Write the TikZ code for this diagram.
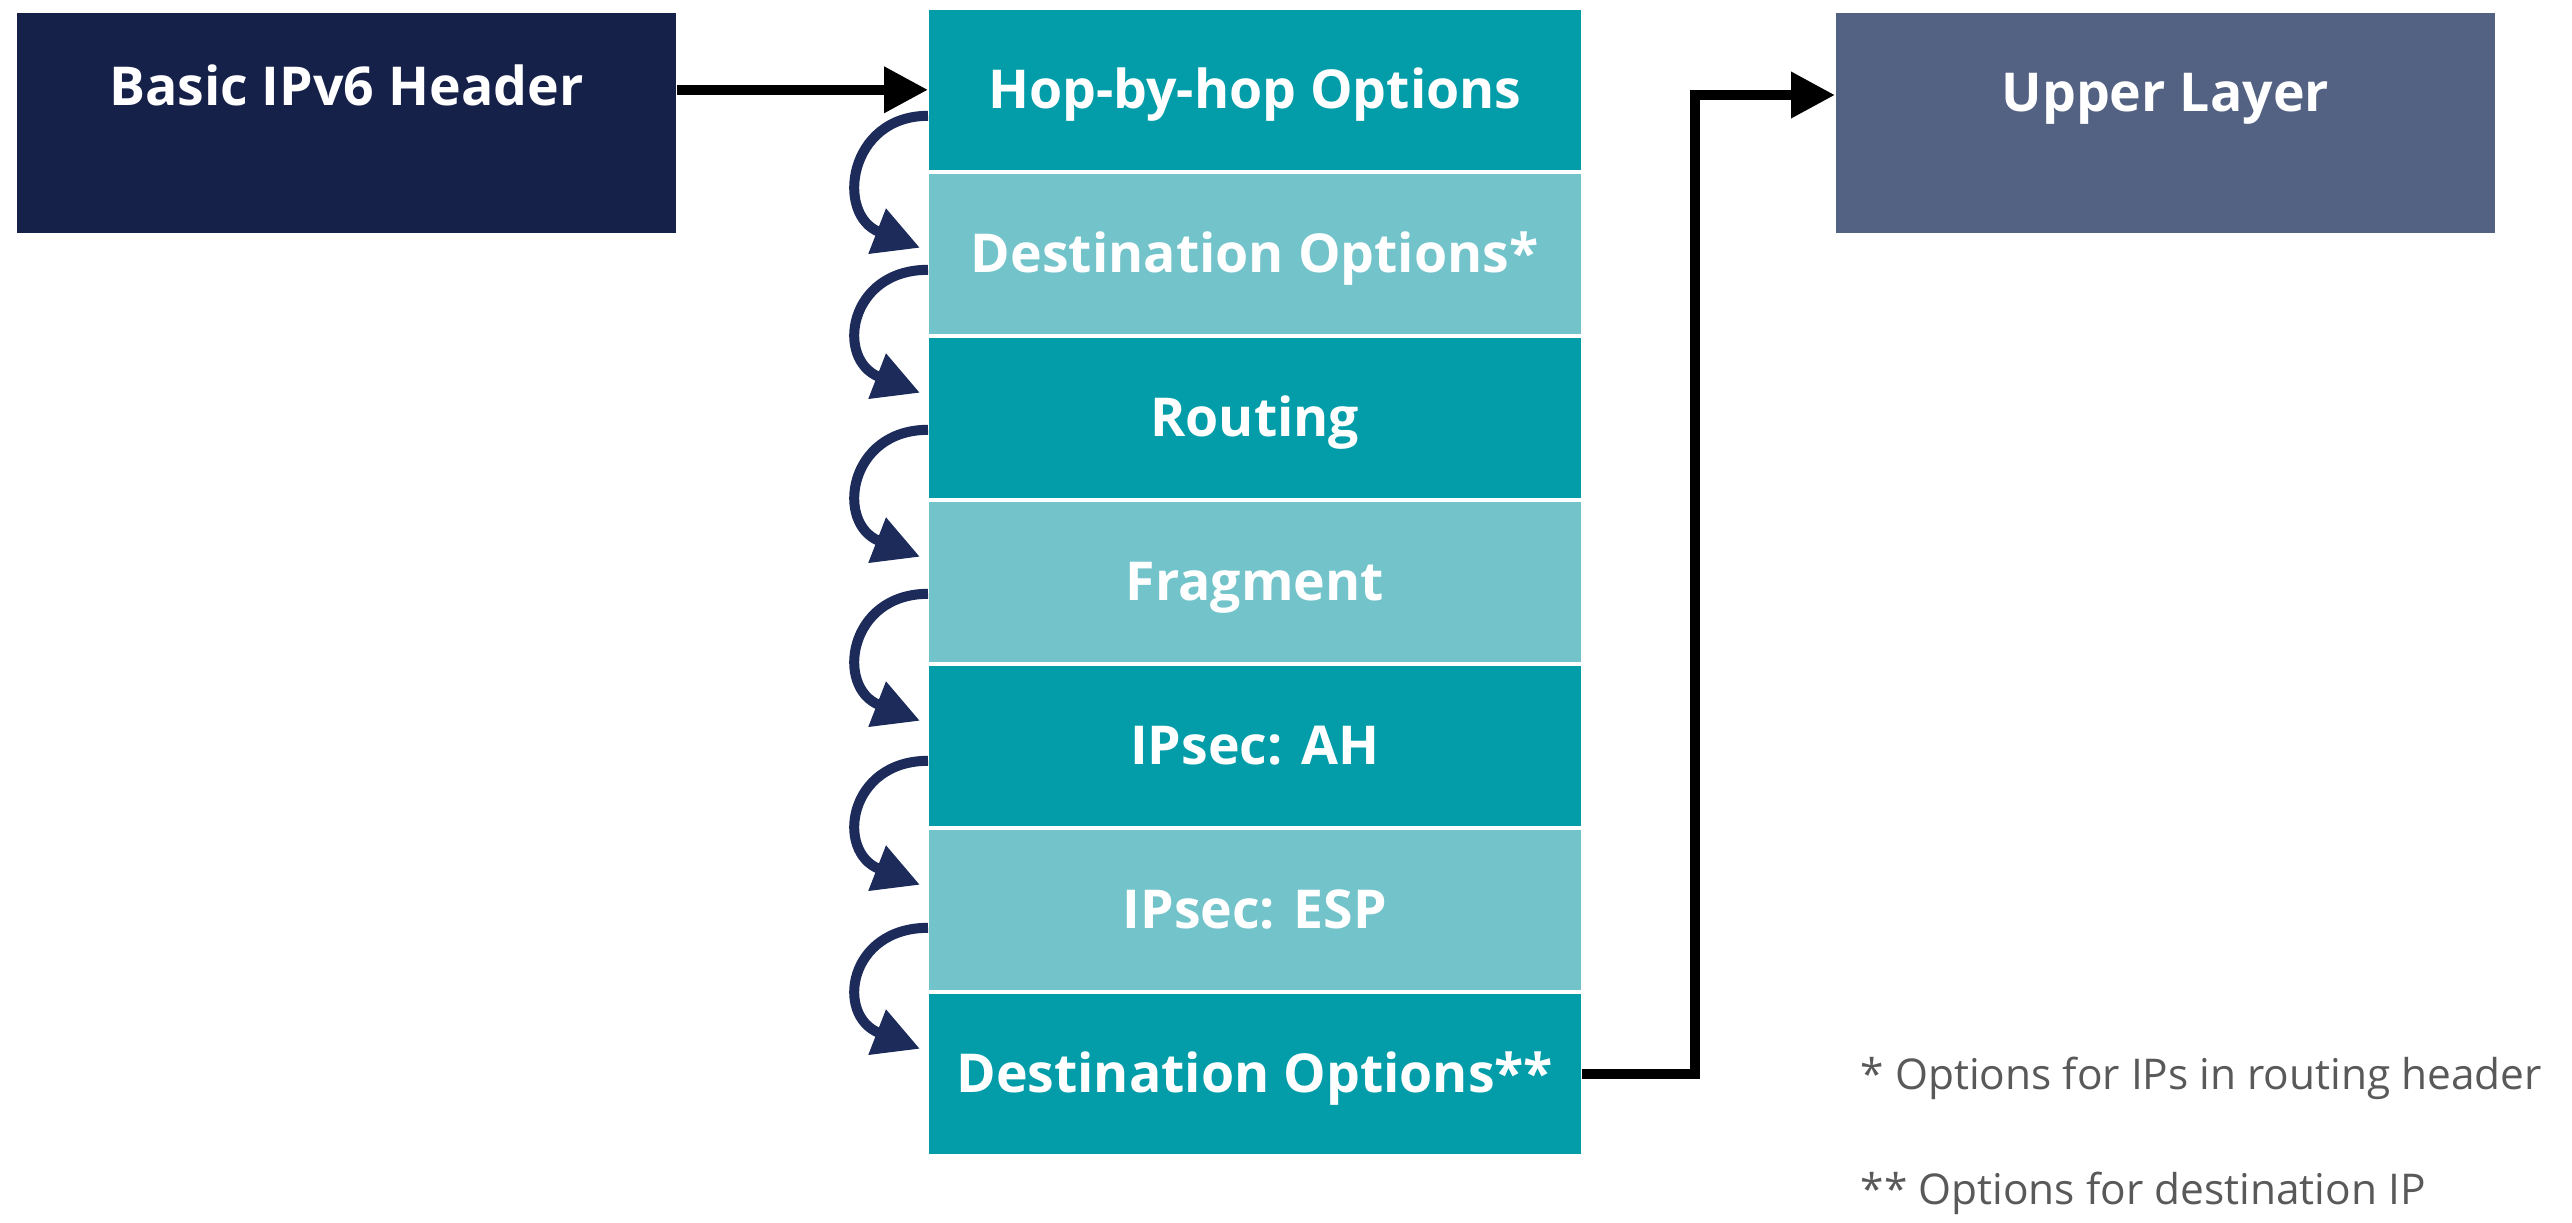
\documentclass[tikz,border=0pt]{standalone}
\usepackage{fontspec}
\setmainfont{Open Sans}
\usetikzlibrary{arrows.meta}

\definecolor{navyhdr}{HTML}{16214A}
\definecolor{tealdark}{HTML}{029DA9}
\definecolor{teallight}{HTML}{72C3CA}
\definecolor{slatehdr}{HTML}{536183}
\definecolor{arrownavy}{HTML}{1C2B5A}
\definecolor{notegrey}{HTML}{595959}

\tikzset{
  outerbox/.style={anchor=north west, inner sep=0pt, minimum width=164.75pt,
    text height=23.25pt, text depth=31.75pt, text=white,
    font=\bfseries\fontsize{13.4}{15}\selectfont},
  extbox/.style={anchor=north west, inner sep=0pt, minimum width=163pt,
    text height=24.6pt, text depth=15.4pt, fill=tealdark, text=white,
    font=\bfseries\fontsize{13.4}{15}\selectfont},
  extboxlt/.style={extbox, fill=teallight},
  notetext/.style={anchor=base west, inner sep=0pt, text=notegrey,
    font=\fontsize{10.6}{12}\selectfont},
  plainarrow/.style={line width=2.5pt, -{Triangle[length=11pt,width=11pt]}},
  bendarrow/.style={draw=arrownavy, line width=2.5pt,
    -{Triangle[length=11.5pt,width=11.5pt,fill=arrownavy]}}
}

\begin{document}
\begin{tikzpicture}[x=0.25pt,y=0.25pt,yscale=-1,xscale=1]
\useasboundingbox (0,0) rectangle (2572,1222);

% Header boxes
\node[outerbox, fill=navyhdr] (basic) at (16,12) {Basic IPv6 Header};
\node[outerbox, fill=slatehdr, text height=24.75pt, text depth=30.25pt] (upper) at (1835,12) {Upper Layer};

% Extension header stack
\node[extbox]   (hop)  at (928,9)   {Hop-by-hop Options};
\node[extboxlt] (dsta) at (928,173) {Destination Options*};
\node[extbox]   (rout) at (928,337) {Routing};
\node[extboxlt] (frag) at (928,501) {Fragment};
\node[extbox]   (ah)   at (928,665) {IPsec: AH};
\node[extboxlt] (esp)  at (928,829) {IPsec: ESP};
\node[extbox]   (dstb) at (928,993) {Destination Options**};

% Notes
\node[notetext] (noteone) at (1860,1089) {* Options for IPs in routing header};
\node[notetext] (notetwo) at (1860,1204) {** Options for destination IP};

%Straight Lines
\draw[plainarrow] (basic.east |- hop.west) -- (hop.west);
\coordinate (elbow) at (1695,95);
\draw[plainarrow] (dstb.east) -| (elbow) -- (elbow -| upper.west);

%Curve Lines
\draw[bendarrow] ([yshift=6.5pt]hop.west) .. controls +(-80,0) and +(-85,-33) .. ([xshift=-2pt,yshift=-1.5pt]dsta.west);
\draw[bendarrow] ([yshift=4pt]dsta.west) .. controls +(-80,0) and +(-85,-33) .. ([xshift=-2pt,yshift=-6.25pt]rout.west);
\draw[bendarrow] ([yshift=3pt]rout.west) .. controls +(-80,0) and +(-85,-33) .. ([xshift=-2pt,yshift=-6.25pt]frag.west);
\draw[bendarrow] ([yshift=3pt]frag.west) .. controls +(-80,0) and +(-85,-33) .. ([xshift=-2pt,yshift=-6.25pt]ah.west);
\draw[bendarrow] ([yshift=3.75pt]ah.west) .. controls +(-80,0) and +(-85,-33) .. ([xshift=-2pt,yshift=-6.25pt]esp.west);
\draw[bendarrow] ([yshift=4.5pt]esp.west) .. controls +(-80,0) and +(-85,-33) .. ([xshift=-2pt,yshift=-6.25pt]dstb.west);

\end{tikzpicture}
\end{document}
